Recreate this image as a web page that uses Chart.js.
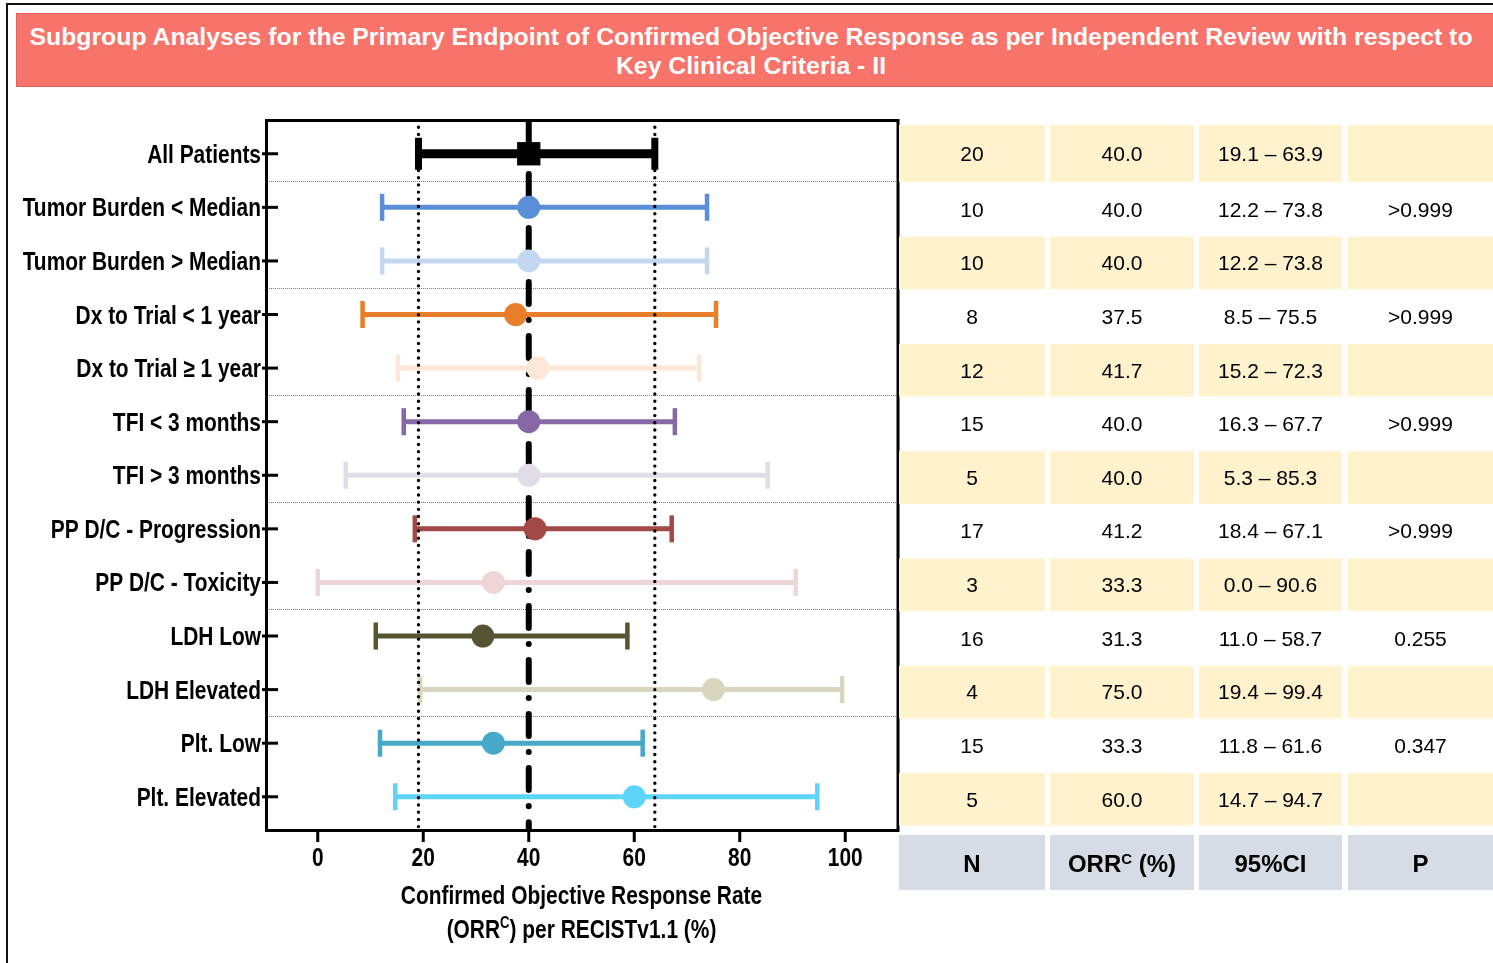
<!DOCTYPE html>
<html>
<head>
<meta charset="utf-8">
<script src="https://cdn.jsdelivr.net/npm/chart.js@4.4.1/dist/chart.umd.min.js"></script>
<style>
  html, body { margin: 0; padding: 0; background: #fff; }
  body { width: 1493px; height: 963px; position: relative; overflow: hidden; }
  #frame { position: absolute; left: 6px; top: 3px; width: 1600px; height: 1100px;
           border-left: 2px solid #111; border-top: 2px solid #111; }
  #banner { position: absolute; left: 16px; top: 13px; width: 1490px; height: 74px;
            background: #F8736A; border: 1px solid #E2655D; box-sizing: border-box;
            color: #fff; font: bold 24.8px "Liberation Sans", Arial, sans-serif;
            text-align: center; line-height: 29px; padding-top: 8px; padding-right: 20px;
            white-space: nowrap; }
  #chart { position: absolute; left: 0; top: 0; }
</style>
</head>
<body>
<div id="frame"></div>
<div id="banner">Subgroup Analyses for the Primary Endpoint of Confirmed Objective Response as per Independent Review with respect to<br>Key Clinical Criteria - II</div>
<canvas id="chart" width="1493" height="963"></canvas>
<script>
// Subgroups, top to bottom
const CATEGORIES = [
  'All Patients',
  'Tumor Burden < Median',
  'Tumor Burden > Median',
  'Dx to Trial < 1 year',
  'Dx to Trial \u2265 1 year',
  'TFI < 3 months',
  'TFI > 3 months',
  'PP D/C - Progression',
  'PP D/C - Toxicity',
  'LDH Low',
  'LDH Elevated',
  'Plt. Low',
  'Plt. Elevated'
];
const N_VALUES = [20, 10, 10, 8, 12, 15, 5, 17, 3, 16, 4, 15, 5];
const ORR = [40.0, 40.0, 40.0, 37.5, 41.7, 40.0, 40.0, 41.2, 33.3, 31.3, 75.0, 33.3, 60.0];
const CI_LOW = [19.1, 12.2, 12.2, 8.5, 15.2, 16.3, 5.3, 18.4, 0.0, 11.0, 19.4, 11.8, 14.7];
const CI_HIGH = [63.9, 73.8, 73.8, 75.5, 72.3, 67.7, 85.3, 67.1, 90.6, 58.7, 99.4, 61.6, 94.7];
const P_VALUES = ['', '>0.999', '', '>0.999', '', '>0.999', '', '>0.999', '', '0.255', '', '0.347', ''];
const X_TICKS = [0, 20, 40, 60, 80, 100];
const X_TITLE = ['Confirmed Objective Response Rate', '(ORR|C|) per RECISTv1.1 (%)'];
const TABLE_HEADERS = ['N', 'ORR|C| (%)', '95%CI', 'P'];

// One colour per subgroup
const COLORS = ['#000000', '#5B8ED8', '#C4D7F0', '#E87E2A', '#FCE7D6', '#8668A6', '#E1DCE8',
                '#A24846', '#EFD6D6', '#575433', '#D9D6BD', '#46A9C8', '#5DD4FA'];

const X_MIN = -10, X_MAX = 110;
const Y_MIN = -0.63, Y_MAX = 12.62;
const FONT = '"Liberation Sans", Arial, sans-serif';
// Axis text: bold face squeezed horizontally into a condensed style
const AXIS_SIZE = 25.5;
const SQUEEZE = 0.82;

// Confidence-interval bars with end caps
const ciSets = CATEGORIES.map((name, i) => ({
  label: name,
  data: [{ x: CI_LOW[i], y: i }, { x: CI_HIGH[i], y: i }],
  showLine: true,
  borderColor: COLORS[i],
  borderWidth: i === 0 ? 9 : 5,
  pointStyle: 'line',
  pointRotation: 90,
  pointRadius: i === 0 ? 16 : 13.5,
  pointBorderWidth: i === 0 ? 7 : 4.5,
  pointBorderColor: COLORS[i],
  pointBackgroundColor: COLORS[i],
  order: 3
}));

// Vertical reference lines from the overall estimate and its interval
const refLine = (x, dash, width) => ({
  label: 'ref ' + x,
  data: [{ x: x, y: Y_MIN }, { x: x, y: Y_MAX }],
  showLine: true,
  borderColor: '#000',
  borderWidth: width,
  borderDash: dash,
  borderCapStyle: 'round',
  pointRadius: 0,
  order: 2
});
const refSets = [
  refLine(CI_LOW[0], [0.01, 7.2], 3.4),
  refLine(CI_HIGH[0], [0.01, 7.2], 3.4),
  refLine(ORR[0], [22, 16, 0.01, 16], 6)
];

// Point estimates
const markerSet = {
  label: 'ORR',
  data: CATEGORIES.map((_, i) => ({ x: ORR[i], y: i })),
  pointBackgroundColor: COLORS,
  pointBorderWidth: 0,
  pointStyle: ctx => ctx.dataIndex === 0 ? 'rect' : 'circle',
  pointRadius: ctx => ctx.dataIndex === 0 ? 16.5 : 11.5,
  order: 1
};

// Condensed bold text, anchored at (x, baseline)
function drawCondensed(ctx, text, x, y, align, size) {
  ctx.save();
  ctx.translate(x, y);
  ctx.scale(SQUEEZE, 1);
  ctx.font = `bold ${size}px ${FONT}`;
  ctx.textAlign = align;
  ctx.textBaseline = 'alphabetic';
  ctx.fillText(text, 0, 0);
  ctx.restore();
}

// Centred text with a superscript segment marked by |...|
function drawRichText(ctx, text, cx, baseY, size, supSize, supRise, squeeze) {
  const parts = text.split('|');
  const fonts = parts.map((_, k) => `bold ${k % 2 ? supSize : size}px ${FONT}`);
  let total = 0;
  const widths = parts.map((p, k) => { ctx.font = fonts[k]; const w = ctx.measureText(p).width; total += w; return w; });
  ctx.save();
  ctx.translate(cx, baseY);
  ctx.scale(squeeze, 1);
  let x = -total / 2;
  ctx.textAlign = 'left';
  ctx.textBaseline = 'alphabetic';
  parts.forEach((p, k) => {
    ctx.font = fonts[k];
    ctx.fillText(p, x, -(k % 2 ? supRise : 0));
    x += widths[k];
  });
  ctx.restore();
}

const decorations = {
  id: 'decorations',
  beforeDatasetsDraw(chart) {
    const { ctx, chartArea: a, scales: { y } } = chart;
    ctx.save();
    ctx.strokeStyle = '#7a7a7a';
    ctx.lineWidth = 1;
    ctx.setLineDash([1, 1]);
    for (let i = 0; i < CATEGORIES.length - 1; i += 2) {
      const py = Math.round(y.getPixelForValue(i + 0.5)) + 0.5;
      ctx.beginPath();
      ctx.moveTo(a.left, py);
      ctx.lineTo(a.right, py);
      ctx.stroke();
    }
    ctx.restore();
  },
  afterDatasetsDraw(chart) {
    const { ctx, chartArea: a, scales: { x, y } } = chart;
    ctx.save();
    ctx.strokeStyle = '#000';
    ctx.fillStyle = '#000';
    ctx.lineWidth = 3;
    // plot frame
    ctx.strokeRect(a.left + 1.5, a.top + 0.5, a.right - a.left - 1.5, a.bottom - a.top);
    // y ticks (drawn inward) and subgroup labels
    CATEGORIES.forEach((name, i) => {
      const py = y.getPixelForValue(i);
      ctx.beginPath();
      ctx.moveTo(a.left - 3, py);
      ctx.lineTo(a.left + 13, py);
      ctx.stroke();
      drawCondensed(ctx, name, a.left - 4, py + 9, 'right', AXIS_SIZE);
    });
    // x ticks and labels
    X_TICKS.forEach(v => {
      const px = x.getPixelForValue(v);
      ctx.beginPath();
      ctx.moveTo(px, a.bottom);
      ctx.lineTo(px, a.bottom + 12);
      ctx.stroke();
      drawCondensed(ctx, String(v), px, a.bottom + 36, 'center', AXIS_SIZE);
    });
    // x-axis title
    const cx = (a.left + a.right) / 2;
    drawRichText(ctx, X_TITLE[0], cx, 904, AXIS_SIZE, 0, 0, SQUEEZE);
    drawRichText(ctx, X_TITLE[1], cx, 938, AXIS_SIZE, 16, 10, SQUEEZE);
    ctx.restore();
  },
  afterDraw(chart) {
    const { ctx } = chart;
    ctx.save();
    // summary table
    const cols = [[899, 1045], [1050, 1194], [1199, 1342], [1348, 1495]];
    const rowTop = i => i === 0 ? 125 : 183 + (i - 1) * 53.64;
    const rowH = i => i === 0 ? 58 : 53.64;
    CATEGORIES.forEach((_, i) => {
      const top = rowTop(i), h = rowH(i), mid = top + h / 2 + 1;
      if (i % 2 === 0) {
        ctx.fillStyle = '#FFF2CC';
        cols.forEach(([l, r]) => ctx.fillRect(l, top, r - l, h - 1));
      }
      ctx.fillStyle = '#000';
      ctx.font = `21px ${FONT}`;
      ctx.textAlign = 'center';
      ctx.textBaseline = 'middle';
      const cells = [String(N_VALUES[i]), ORR[i].toFixed(1),
                     CI_LOW[i].toFixed(1) + ' \u2013 ' + CI_HIGH[i].toFixed(1), P_VALUES[i]];
      cells.forEach((t, k) => ctx.fillText(t, (cols[k][0] + cols[k][1] - (k === 3 ? 2 : 0)) / 2, mid));
    });
    // header row
    ctx.fillStyle = '#D6DCE5';
    cols.forEach(([l, r]) => ctx.fillRect(l, 835, r - l, 55));
    ctx.fillStyle = '#000';
    TABLE_HEADERS.forEach((t, k) => {
      const hx = (cols[k][0] + cols[k][1] - (k === 3 ? 2 : 0)) / 2;
      drawRichText(ctx, t, hx, 872, 24, 15, 8, 1);
    });
    ctx.restore();
  }
};

new Chart(document.getElementById('chart'), {
  type: 'scatter',
  data: { datasets: [...ciSets, ...refSets, markerSet] },
  options: {
    responsive: false,
    animation: false,
    events: [],
    devicePixelRatio: 1,
    layout: { padding: { left: 0, top: 120, right: 1493 - 898, bottom: 0 } },
    plugins: { legend: { display: false }, tooltip: { enabled: false } },
    scales: {
      x: {
        type: 'linear',
        min: X_MIN, max: X_MAX,
        afterBuildTicks: s => { s.ticks = X_TICKS.map(v => ({ value: v })); },
        afterFit: s => { s.height = 963 - 120 - 710; },
        border: { display: false },
        grid: { display: false },
        ticks: { display: false }
      },
      y: {
        type: 'linear',
        reverse: true,
        min: Y_MIN, max: Y_MAX,
        afterBuildTicks: s => { s.ticks = CATEGORIES.map((_, i) => ({ value: i })); },
        afterFit: s => { s.width = 265; },
        border: { display: false },
        grid: { display: false },
        ticks: { display: false }
      }
    }
  },
  plugins: [decorations]
});
</script>
</body>
</html>
